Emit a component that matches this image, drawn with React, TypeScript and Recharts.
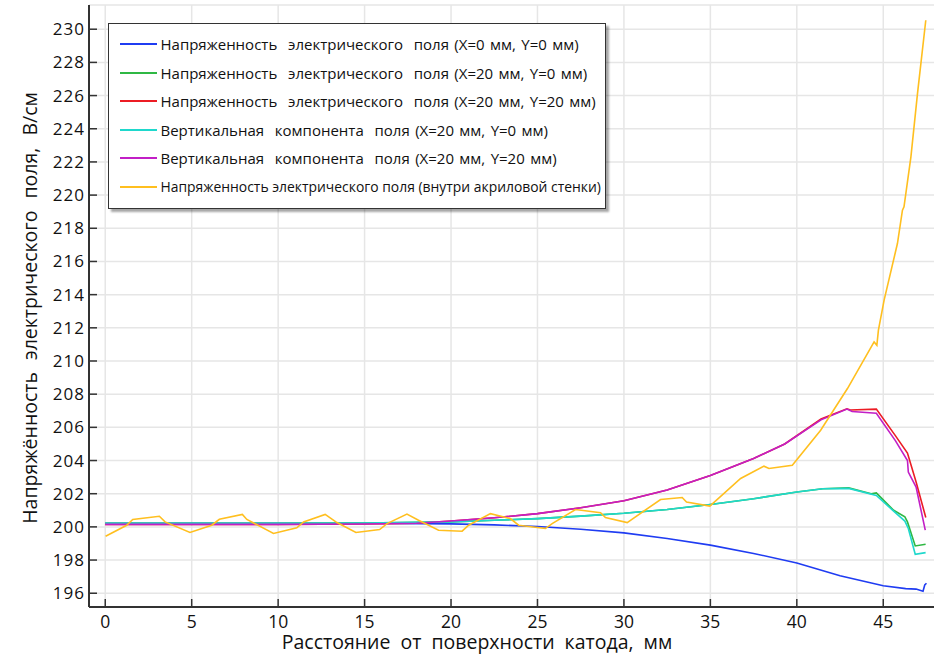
import React from 'react'
import { LineChart, Line, XAxis, YAxis, CartesianGrid } from 'recharts'

const xTicks = [0, 5, 10, 15, 20, 25, 30, 35, 40, 45]
const yTicks = [196, 198, 200, 202, 204, 206, 208, 210, 212, 214, 216, 218, 220, 222, 224, 226, 228, 230]

// X=0, Y=0
const blueX = [0, 10, 15, 20, 22.5, 25, 27.5, 30, 32.5, 35, 37.5, 40, 42.5, 45, 46.3, 46.9, 47.3, 47.4, 47.5]
const blueY = [200.22, 200.22, 200.22, 200.18, 200.12, 200.02, 199.86, 199.64, 199.3, 198.9, 198.4, 197.82, 197.05, 196.45, 196.28, 196.25, 196.12, 196.5, 196.6]

// X=20, Y=0 (modulus)
const greenX = [0, 10, 15, 20, 22.5, 25, 27.5, 30, 32.5, 35, 37.5, 40, 41.5, 43, 44.3, 44.6, 45.6, 46.25, 46.4, 46.85, 47.45]
const greenY = [200.22, 200.22, 200.23, 200.3, 200.4, 200.5, 200.65, 200.82, 201.05, 201.35, 201.7, 202.1, 202.3, 202.35, 202.0, 202.05, 201.0, 200.6, 200.3, 198.85, 198.95]

// X=20, Y=20 (modulus)
const redX = [0, 10, 15, 18, 20, 22.5, 25, 27.5, 30, 32.5, 35, 37.5, 39.3, 41.4, 42.9, 43.1, 44.6, 45.7, 46.4, 46.9, 47.46]
const redY = [200.15, 200.15, 200.17, 200.22, 200.35, 200.55, 200.8, 201.15, 201.57, 202.22, 203.1, 204.12, 205.0, 206.5, 207.12, 207.05, 207.1, 205.5, 204.45, 202.7, 200.57]

// vertical component X=20, Y=0
const cyanX = [0, 10, 15, 20, 22.5, 25, 27.5, 30, 32.5, 35, 37.5, 40, 41.5, 43, 44.6, 45.6, 46.25, 46.45, 46.85, 47.45]
const cyanY = [200.22, 200.22, 200.23, 200.3, 200.4, 200.5, 200.65, 200.82, 201.05, 201.35, 201.7, 202.1, 202.3, 202.32, 201.9, 200.95, 200.35, 199.9, 198.35, 198.45]

// vertical component X=20, Y=20
const magentaX = [0, 10, 15, 18, 20, 22.5, 25, 27.5, 30, 32.5, 35, 37.5, 39.3, 41.4, 42.9, 43.2, 44.6, 45.7, 46.4, 46.45, 46.9, 47.43]
const magentaY = [200.15, 200.15, 200.17, 200.22, 200.35, 200.55, 200.8, 201.15, 201.57, 202.22, 203.1, 204.12, 205.0, 206.45, 207.1, 206.95, 206.85, 205.2, 204.0, 203.3, 202.4, 199.8]

// inside acrylic wall
const yellowX = [0.02, 1.24, 1.59, 3.13, 3.46, 4.9, 6.16, 6.6, 7.93, 8.19, 9.73, 11.08, 11.47, 12.72, 13.4, 14.5, 15.87, 16.3, 17.45, 18.12, 19.28, 20.64, 21.02, 22.28, 23.43, 23.91, 25.46, 25.85, 27.2, 28.65, 28.93, 30.19, 32.12, 33.37, 33.62, 34.97, 36.75, 38.1, 38.39, 39.74, 41.38, 42.93, 44.47, 44.63, 44.72, 45.05, 45.82, 46.11, 46.2, 46.6, 46.98, 47.46]
const yellowY = [199.44, 200.1, 200.45, 200.64, 200.3, 199.66, 200.1, 200.46, 200.75, 200.45, 199.6, 199.94, 200.3, 200.75, 200.26, 199.66, 199.84, 200.2, 200.77, 200.4, 199.8, 199.74, 200.1, 200.8, 200.5, 200.1, 199.9, 200.2, 201.05, 200.85, 200.56, 200.26, 201.65, 201.77, 201.5, 201.25, 202.92, 203.66, 203.52, 203.72, 205.83, 208.34, 211.15, 210.95, 211.86, 213.67, 217.08, 219.09, 219.29, 222.3, 226.12, 230.54]

const zip = (xs: number[], ys: number[]) => xs.map((x, i) => ({ x, y: ys[i] }))

const series = [
  { name: 'Напряженность  электрического  поля (X=0 мм, Y=0 мм)', color: '#1f3cf2', data: zip(blueX, blueY) },
  { name: 'Напряженность  электрического  поля (X=20 мм, Y=0 мм)', color: '#2fb844', data: zip(greenX, greenY) },
  { name: 'Напряженность  электрического  поля (X=20 мм, Y=20 мм)', color: '#ec1c24', data: zip(redX, redY) },
  { name: 'Вертикальная  компонента  поля (X=20 мм, Y=0 мм)', color: '#1fd8cc', data: zip(cyanX, cyanY) },
  { name: 'Вертикальная  компонента  поля (X=20 мм, Y=20 мм)', color: '#c21fc6', data: zip(magentaX, magentaY) },
  { name: 'Напряженность электрического поля (внутри акриловой стенки)', color: '#ffbf1f', data: zip(yellowX, yellowY) },
]

const FONT = '"Open Sans", "DejaVu Sans", sans-serif'
const AXIS = '#333'

const BottomTick = (props: any) => {
  const { x, y, payload } = props
  return (
    <g>
      <line x1={x} y1={y} x2={x} y2={y - 8} stroke={AXIS} strokeWidth={1.5} />
      <text x={x} y={y + 21} textAnchor="middle" fontSize={17.5} fontFamily={FONT} fill="#111">{payload.value}</text>
    </g>
  )
}

const LeftTick = (props: any) => {
  const { x, y, payload } = props
  return (
    <g>
      <line x1={x} y1={y} x2={x + 8} y2={y} stroke={AXIS} strokeWidth={1.5} />
      <text x={x - 4} y={y + 6} textAnchor="end" fontSize={17} letterSpacing={1} fontFamily={FONT} fill="#111">{payload.value}</text>
    </g>
  )
}

const TopTick = (props: any) => {
  const { x, y } = props
  return <line x1={x} y1={y} x2={x} y2={y + 7} stroke={AXIS} strokeWidth={1.5} />
}

const RightTick = (props: any) => {
  const { x, y } = props
  return <line x1={x} y1={y} x2={x - 8} y2={y} stroke={AXIS} strokeWidth={1.5} />
}

const App = () => {
  return (
    <div style={{ position: 'absolute', left: 0, top: 0, width: 934, height: 654, overflow: 'hidden', background: '#fff' }}>
      <LineChart width={941} height={654} margin={{ top: 5, right: 0, bottom: 0, left: 0 }}>
        <CartesianGrid stroke="#e6e6e6" strokeWidth={1.5} />
        <XAxis
          dataKey="x"
          type="number"
          domain={[-0.94, 48.34]}
          ticks={xTicks}
          allowDataOverflow
          height={47}
          tickSize={0}
          tickMargin={0}
          tick={<BottomTick />}
          axisLine={{ stroke: AXIS, strokeWidth: 2 }}
        />
        <XAxis
          xAxisId="top"
          orientation="top"
          dataKey="x"
          type="number"
          domain={[-0.94, 48.34]}
          ticks={xTicks}
          allowDataOverflow
          height={0}
          tickSize={0}
          tickMargin={0}
          tick={<TopTick />}
          axisLine={{ stroke: AXIS, strokeWidth: 2 }}
        />
        <YAxis
          type="number"
          domain={[195.17, 231.46]}
          ticks={yTicks}
          allowDataOverflow
          width={89}
          tickSize={0}
          tickMargin={0}
          tick={<LeftTick />}
          axisLine={{ stroke: AXIS, strokeWidth: 2 }}
        />
        <YAxis
          yAxisId="right"
          orientation="right"
          type="number"
          domain={[195.17, 231.46]}
          ticks={yTicks}
          allowDataOverflow
          width={0}
          tickSize={0}
          tickMargin={0}
          tick={<RightTick />}
          axisLine={{ stroke: AXIS, strokeWidth: 2 }}
        />
        {series.map(s => (
          <Line
            key={s.name}
            data={s.data}
            dataKey="y"
            name={s.name}
            type="linear"
            stroke={s.color}
            strokeWidth={1.6}
            dot={false}
            activeDot={false}
            isAnimationActive={false}
          />
        ))}
        <text x={477} y={649} textAnchor="middle" fontSize={19.5} fontFamily={FONT} wordSpacing={5} fill="#111">
          Расстояние от поверхности катода, мм
        </text>
        <text x={37} y={308} transform="rotate(-90 37 308)" textAnchor="middle" fontSize={19.5} fontFamily={FONT} wordSpacing={7} fill="#111">
          Напряжённость электрического поля, В/см
        </text>
      </LineChart>
      <div
        style={{
          position: 'absolute',
          left: 108,
          top: 23,
          width: 496,
          height: 178,
          border: '1.5px solid #333',
          background: '#fff',
          boxShadow: '3px 3px 2px rgba(0,0,0,0.35)',
          paddingTop: 6,
          fontFamily: FONT,
          color: '#111',
        }}
      >
        {series.map((s, i) => (
          <div key={s.name} style={{ height: 28.5, display: 'flex', alignItems: 'center', whiteSpace: 'pre' }}>
            <span style={{ display: 'inline-block', width: 37, height: 2, background: s.color, marginLeft: 10.5, marginRight: 4 }} />
            <span style={{ fontSize: i === 5 ? 13.9 : 15, wordSpacing: i === 5 ? 0 : 1.5 }}>{s.name}</span>
          </div>
        ))}
      </div>
    </div>
  )
}

export default App
